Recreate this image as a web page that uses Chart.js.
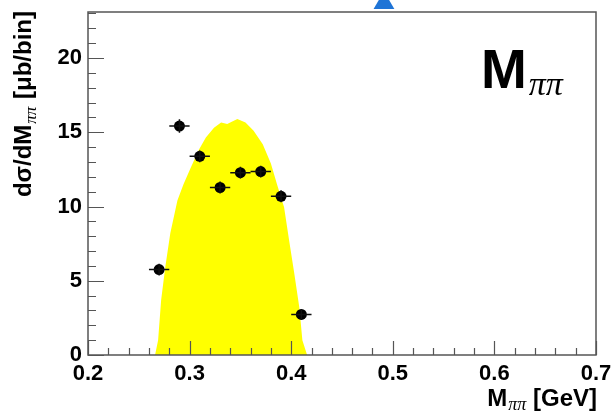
<!DOCTYPE html>
<html>
<head>
<meta charset="utf-8">
<script src="https://cdn.jsdelivr.net/npm/chart.js@4/dist/chart.umd.min.js"></script>
<style>
  body { margin: 0; background: #fff; }
</style>
</head>
<body>
<canvas id="mpipi" width="614" height="414"></canvas>
<script>
// measured points (bin centre, value, errors)
const massBins = [0.27, 0.29, 0.31, 0.33, 0.35, 0.37, 0.39, 0.41];
const xsec     = [5.75, 15.42, 13.38, 11.28, 12.28, 12.35, 10.69, 2.73];
const massErr  = [0.01, 0.01, 0.01, 0.01, 0.01, 0.01, 0.01, 0.01];
const xsecErr  = [0.4, 0.45, 0.4, 0.4, 0.4, 0.4, 0.4, 0.35];

// yellow model band
const bandMass  = [0.266, 0.269, 0.272, 0.276, 0.281, 0.288, 0.294, 0.301, 0.309, 0.316, 0.324, 0.331, 0.337,
                   0.347, 0.355, 0.363, 0.372, 0.380, 0.386, 0.393, 0.398, 0.403, 0.408, 0.411, 0.4156];
const bandValue = [0, 1.0, 3.7, 5.9, 8.2, 10.4, 11.5, 12.6, 13.8, 14.65, 15.3, 15.65, 15.55,
                   15.9, 15.65, 15.1, 14.2, 12.9, 11.5, 9.95, 7.7, 5.5, 3.2, 1.0, 0];

// arrow from the neighbouring panel, only its tip shows
const arrowMass  = [0.4913];
const arrowValue = [23.7];

const xTicks = [0.2, 0.3, 0.4, 0.5, 0.6, 0.7];
const yTicks = [0, 5, 10, 15, 20];

const SANS = "'Liberation Sans', Arial, Helvetica, sans-serif";
const SERIF = "'Liberation Serif', 'Times New Roman', serif";

function toPts(xs, ys) {
    return xs.map((x, i) => ({ x: x, y: ys[i] }));
}

// frame, inside ticks, error bars and the texts
const rootStyle = {
    id: 'rootStyle',
    afterDatasetsDraw(chart) {
        const ctx = chart.ctx;
        const xs = chart.scales.x, ys = chart.scales.y;
        ctx.save();
        ctx.strokeStyle = '#111';
        ctx.lineWidth = 1.5;
        massBins.forEach((m, i) => {
            const px = xs.getPixelForValue(m), py = ys.getPixelForValue(xsec[i]);
            ctx.beginPath();
            ctx.moveTo(xs.getPixelForValue(m - massErr[i]), py);
            ctx.lineTo(xs.getPixelForValue(m + massErr[i]), py);
            ctx.moveTo(px, ys.getPixelForValue(xsec[i] - xsecErr[i]));
            ctx.lineTo(px, ys.getPixelForValue(xsec[i] + xsecErr[i]));
            ctx.stroke();
        });
        ctx.restore();
    },
    afterDraw(chart) {
        const ctx = chart.ctx;
        const a = chart.chartArea;
        const xs = chart.scales.x, ys = chart.scales.y;
        ctx.save();
        ctx.strokeStyle = '#555';
        ctx.lineWidth = 1.5;
        ctx.strokeRect(a.left, a.top, a.right - a.left, a.bottom - a.top);

        ctx.lineWidth = 1.2;
        ctx.beginPath();
        for (let v = 0; v <= 23; v++) {
            const py = Math.round(ys.getPixelForValue(v)) + 0.5;
            const len = v % 5 === 0 ? 16 : 8;
            ctx.moveTo(a.left, py);
            ctx.lineTo(a.left + len, py);
        }
        for (let k = 0; k <= 25; k++) {
            const px = Math.round(xs.getPixelForValue(0.2 + k * 0.02)) + 0.5;
            const len = k % 5 === 0 ? 14 : 7;
            ctx.moveTo(px, a.bottom);
            ctx.lineTo(px, a.bottom - len);
        }
        ctx.stroke();

        ctx.fillStyle = '#000';
        ctx.textBaseline = 'alphabetic';

        // big panel title
        ctx.font = 'bold 55px ' + SANS;
        ctx.fillText('M', 481, 88);
        let w = ctx.measureText('M').width;
        ctx.font = 'italic 34px ' + SERIF;
        ctx.fillText('ππ', 481 + w + 2, 95);

        // x axis title, right aligned on the frame
        const partA = 'M', partC = ' [GeV]';
        ctx.font = 'italic 18px ' + SERIF;
        const wSub = ctx.measureText('ππ').width;
        ctx.font = 'bold 24px ' + SANS;
        const wA = ctx.measureText(partA).width, wC = ctx.measureText(partC).width;
        let x0 = a.right + 1 - (wA + wSub + 1 + wC);
        ctx.fillText(partA, x0, 406);
        ctx.font = 'italic 18px ' + SERIF;
        ctx.fillText('ππ', x0 + wA + 1, 410);
        ctx.font = 'bold 24px ' + SANS;
        ctx.fillText(partC, x0 + wA + 1 + wSub, 406);

        // y axis title, rotated, top end at the frame top
        ctx.translate(31, a.top - 1);
        ctx.rotate(-Math.PI / 2);
        ctx.font = 'bold 24px ' + SANS;
        const yA = 'dσ/dM', yC = ' [μb/bin]';
        const wyA = ctx.measureText(yA).width, wyC = ctx.measureText(yC).width;
        ctx.font = 'italic 17px ' + SERIF;
        const wyS = ctx.measureText('ππ').width;
        let s0 = -(wyA + wyS + 2 + wyC);
        ctx.font = 'bold 24px ' + SANS;
        ctx.fillText(yA, s0, 0);
        ctx.font = 'italic 17px ' + SERIF;
        ctx.fillText('ππ', s0 + wyA + 1, 5);
        ctx.font = 'bold 24px ' + SANS;
        ctx.fillText(yC, s0 + wyA + 2 + wyS, 0);
        ctx.restore();
    }
};

new Chart(document.getElementById('mpipi').getContext('2d'), {
    type: 'scatter',
    data: {
        datasets: [{
            type: 'line',
            data: toPts(bandMass, bandValue),
            fill: 'origin',
            backgroundColor: '#ffff00',
            borderWidth: 0,
            pointRadius: 0,
            tension: 0,
            order: 3
        }, {
            data: toPts(massBins, xsec),
            backgroundColor: '#000',
            borderWidth: 0,
            pointRadius: 5.5,
            order: 1
        }, {
            data: toPts(arrowMass, arrowValue),
            pointStyle: 'triangle',
            rotation: 0,
            pointRadius: 12,
            backgroundColor: '#1f74d6',
            borderWidth: 0,
            clip: false,
            order: 0
        }]
    },
    options: {
        responsive: false,
        animation: false,
        events: [],
        layout: { padding: { left: 0, right: 18, top: 11, bottom: 0 } },
        plugins: { legend: { display: false }, tooltip: { enabled: false } },
        scales: {
            x: {
                type: 'linear',
                min: 0.2,
                max: 0.7,
                afterBuildTicks: (s) => { s.ticks = xTicks.map(v => ({ value: v })); },
                afterFit: (s) => { s.height = 59; s.paddingLeft = 0; s.paddingRight = 0; },
                grid: { display: false, drawTicks: false },
                border: { display: false },
                ticks: {
                    autoSkip: false,
                    maxRotation: 0,
                    padding: 6,
                    color: '#000',
                    font: { family: SANS, size: 22, weight: 'bold' },
                    callback: (v) => v.toFixed(1)
                }
            },
            y: {
                min: 0,
                max: 23.1,
                afterBuildTicks: (s) => { s.ticks = yTicks.map(v => ({ value: v })); },
                afterFit: (s) => { s.width = 88; s.paddingTop = 0; s.paddingBottom = 0; },
                grid: { display: false, drawTicks: false },
                border: { display: false },
                ticks: {
                    padding: 6,
                    color: '#000',
                    font: { family: SANS, size: 22, weight: 'bold' },
                    callback: (v) => String(v)
                }
            }
        }
    },
    plugins: [rootStyle]
});
</script>
</body>
</html>
